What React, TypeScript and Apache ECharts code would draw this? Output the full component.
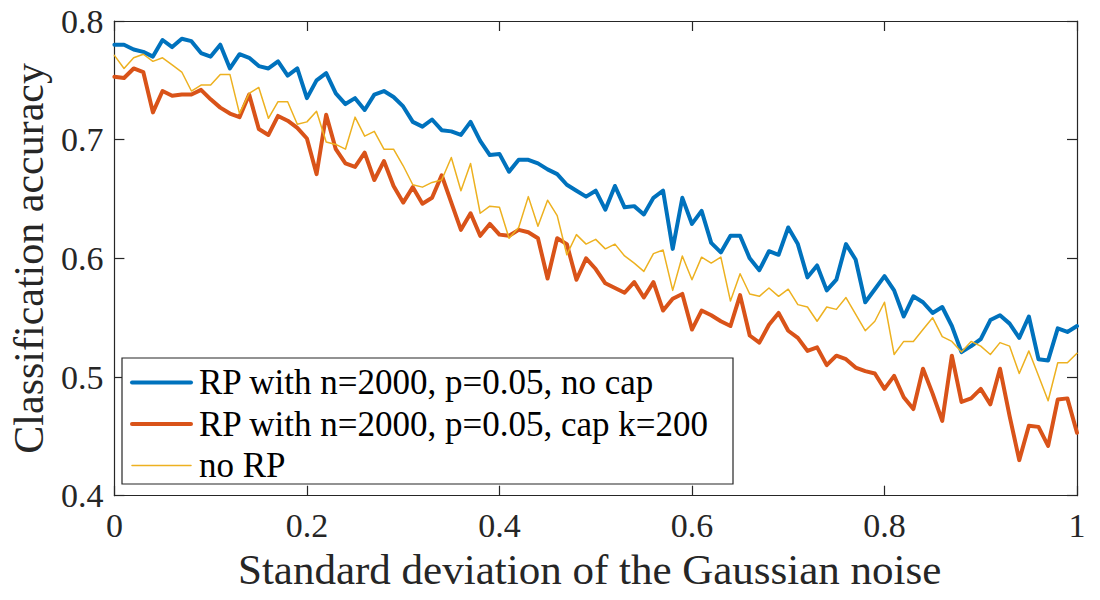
import React, { useEffect, useRef } from "react";
import * as echarts from "echarts";

const noiseStd: number[] = Array.from({ length: 101 }, (_, i) => i / 100);

const rpNoCap: number[] = [
  0.780, 0.780, 0.776, 0.774, 0.770, 0.784, 0.778, 0.785, 0.783, 0.773,
  0.770, 0.780, 0.760, 0.772, 0.769, 0.762, 0.760, 0.766, 0.754, 0.760,
  0.735, 0.750, 0.756, 0.739, 0.730, 0.735, 0.725, 0.738, 0.741, 0.736,
  0.728, 0.715, 0.711, 0.717, 0.708, 0.707, 0.704, 0.715, 0.699, 0.687,
  0.688, 0.673, 0.683, 0.683, 0.680, 0.675, 0.671, 0.662, 0.657, 0.652,
  0.657, 0.641, 0.661, 0.643, 0.644, 0.637, 0.651, 0.657, 0.608, 0.651,
  0.629, 0.640, 0.613, 0.605, 0.619, 0.619, 0.600, 0.590, 0.606, 0.603,
  0.626, 0.612, 0.584, 0.594, 0.573, 0.582, 0.612, 0.599, 0.563, 0.574,
  0.585, 0.573, 0.551, 0.568, 0.563, 0.554, 0.559, 0.543, 0.521, 0.526,
  0.532, 0.548, 0.552, 0.545, 0.533, 0.551, 0.515, 0.514, 0.541, 0.538,
  0.543,
];

const rpCap: number[] = [
  0.753, 0.752, 0.760, 0.757, 0.723, 0.741, 0.737, 0.738, 0.738, 0.742,
  0.734, 0.727, 0.722, 0.719, 0.738, 0.709, 0.704, 0.720, 0.716, 0.710,
  0.701, 0.671, 0.721, 0.692, 0.680, 0.677, 0.689, 0.666, 0.682, 0.661,
  0.647, 0.660, 0.646, 0.651, 0.670, 0.647, 0.624, 0.638, 0.619, 0.629,
  0.620, 0.619, 0.624, 0.622, 0.617, 0.583, 0.617, 0.612, 0.582, 0.600,
  0.591, 0.579, 0.575, 0.571, 0.580, 0.567, 0.580, 0.556, 0.566, 0.570,
  0.540, 0.556, 0.552, 0.547, 0.543, 0.569, 0.535, 0.529, 0.544, 0.554,
  0.539, 0.533, 0.522, 0.525, 0.510, 0.518, 0.515, 0.508, 0.505, 0.503,
  0.490, 0.501, 0.483, 0.473, 0.507, 0.486, 0.463, 0.518, 0.479, 0.482,
  0.490, 0.477, 0.507, 0.467, 0.430, 0.459, 0.458, 0.442, 0.481, 0.482,
  0.453,
];

const noRP: number[] = [
  0.771, 0.760, 0.769, 0.772, 0.766, 0.769, 0.763, 0.757, 0.741, 0.746,
  0.746, 0.755, 0.755, 0.722, 0.739, 0.744, 0.718, 0.732, 0.732, 0.713,
  0.715, 0.724, 0.698, 0.696, 0.692, 0.719, 0.703, 0.707, 0.692, 0.692,
  0.678, 0.662, 0.660, 0.664, 0.666, 0.685, 0.657, 0.680, 0.638, 0.644,
  0.643, 0.617, 0.626, 0.652, 0.627, 0.649, 0.636, 0.603, 0.620, 0.612,
  0.616, 0.608, 0.612, 0.602, 0.596, 0.589, 0.604, 0.607, 0.573, 0.602,
  0.582, 0.601, 0.596, 0.601, 0.564, 0.587, 0.570, 0.568, 0.575, 0.568,
  0.574, 0.561, 0.559, 0.547, 0.559, 0.557, 0.567, 0.553, 0.539, 0.547,
  0.563, 0.519, 0.530, 0.530, 0.540, 0.550, 0.534, 0.530, 0.521, 0.530,
  0.526, 0.519, 0.529, 0.526, 0.503, 0.522, 0.501, 0.480, 0.512, 0.512,
  0.520,
];

const seriesNames: string[] = [
  "RP with n=2000, p=0.05, no cap",
  "RP with n=2000, p=0.05, cap k=200",
  "no RP",
];
const xTickValues: number[] = [0, 0.2, 0.4, 0.6, 0.8, 1];
const yTickValues: number[] = [0.4, 0.5, 0.6, 0.7, 0.8];

const FONT = "'Liberation Serif', 'Times New Roman', serif";
const INK = "#262626";
const COLORS = ["#0072BD", "#D95319", "#EDB120"];
const WIDTHS = [4, 4, 1.5];

export default function App() {
  const ref = useRef<HTMLDivElement>(null);

  useEffect(() => {
    if (!ref.current) return;
    const chart = echarts.init(ref.current, undefined, { renderer: "svg" });
    const valuesList = [rpNoCap, rpCap, noRP];

    const axisCommon = {
      axisLine: { show: true, onZero: false, lineStyle: { color: INK, width: 1.2 } },
      axisTick: { show: true, inside: true, length: 10, lineStyle: { color: INK, width: 1.2 } },
      splitLine: { show: false },
    };

    const xBase = {
      type: "value" as const,
      min: xTickValues[0],
      max: xTickValues[xTickValues.length - 1],
      interval: 0.2,
      ...axisCommon,
    };
    const yBase = {
      type: "value" as const,
      min: yTickValues[0],
      max: yTickValues[yTickValues.length - 1],
      interval: 0.1,
      ...axisCommon,
    };

    chart.setOption({
      animation: false,
      backgroundColor: "#ffffff",
      grid: { left: 110.5, right: 23, top: 21, bottom: 104.3, containLabel: false },
      xAxis: [
        {
          ...xBase,
          position: "bottom",
          name: "Standard deviation of the Gaussian noise",
          nameLocation: "middle",
          nameGap: 52,
          nameTextStyle: { fontFamily: FONT, fontSize: 43, color: INK, padding: [0, 12, 0, 0] },
          axisLabel: {
            show: true,
            margin: 13,
            fontFamily: FONT,
            fontSize: 34,
            color: INK,
            formatter: (v: number) => String(Math.round(v * 10) / 10),
          },
        },
        { ...xBase, position: "top", axisLabel: { show: false } },
      ],
      yAxis: [
        {
          ...yBase,
          position: "left",
          name: "Classification accuracy",
          nameLocation: "middle",
          nameGap: 64,
          nameTextStyle: { fontFamily: FONT, fontSize: 42, color: INK },
          axisLabel: {
            show: true,
            margin: 11,
            fontFamily: FONT,
            fontSize: 34,
            color: INK,
            formatter: (v: number) => (Math.round(v * 10) / 10).toFixed(1),
          },
        },
        { ...yBase, position: "right", axisLabel: { show: false } },
      ],
      legend: {
        show: true,
        orient: "vertical",
        left: 122,
        top: 358,
        padding: [7, 20, 7, 8],
        itemWidth: 59,
        itemHeight: 14,
        itemGap: 6.5,
        z: 10,
        textStyle: { fontFamily: FONT, fontSize: 35, color: "#000", lineHeight: 33, padding: [0, 0, 0, 3] },
        data: seriesNames.map((n, k) => ({
          name: n,
          itemStyle: { opacity: 0 },
          lineStyle: { color: COLORS[k], width: WIDTHS[k], opacity: 1 },
        })),
      },
      graphic: [
        {
          type: "rect",
          z: 8,
          shape: { x: 122, y: 358, width: 611, height: 126 },
          style: { fill: "#ffffff", stroke: INK, lineWidth: 1.2 },
        },
      ],
      series: valuesList.map((vals, k) => ({
        type: "line",
        name: seriesNames[k],
        xAxisIndex: 0,
        yAxisIndex: 0,
        showSymbol: false,
        symbol: "none",
        z: 2 + k,
        lineStyle: { color: COLORS[k], width: WIDTHS[k], join: "round", cap: "round" },
        itemStyle: { color: COLORS[k] },
        data: noiseStd.map((x, i) => [x, vals[i]]),
      })),
    });

    return () => chart.dispose();
  }, []);

  return (
    <div
      ref={ref}
      style={{ position: "absolute", left: 0, top: 0, width: 1100, height: 600 }}
    />
  );
}
